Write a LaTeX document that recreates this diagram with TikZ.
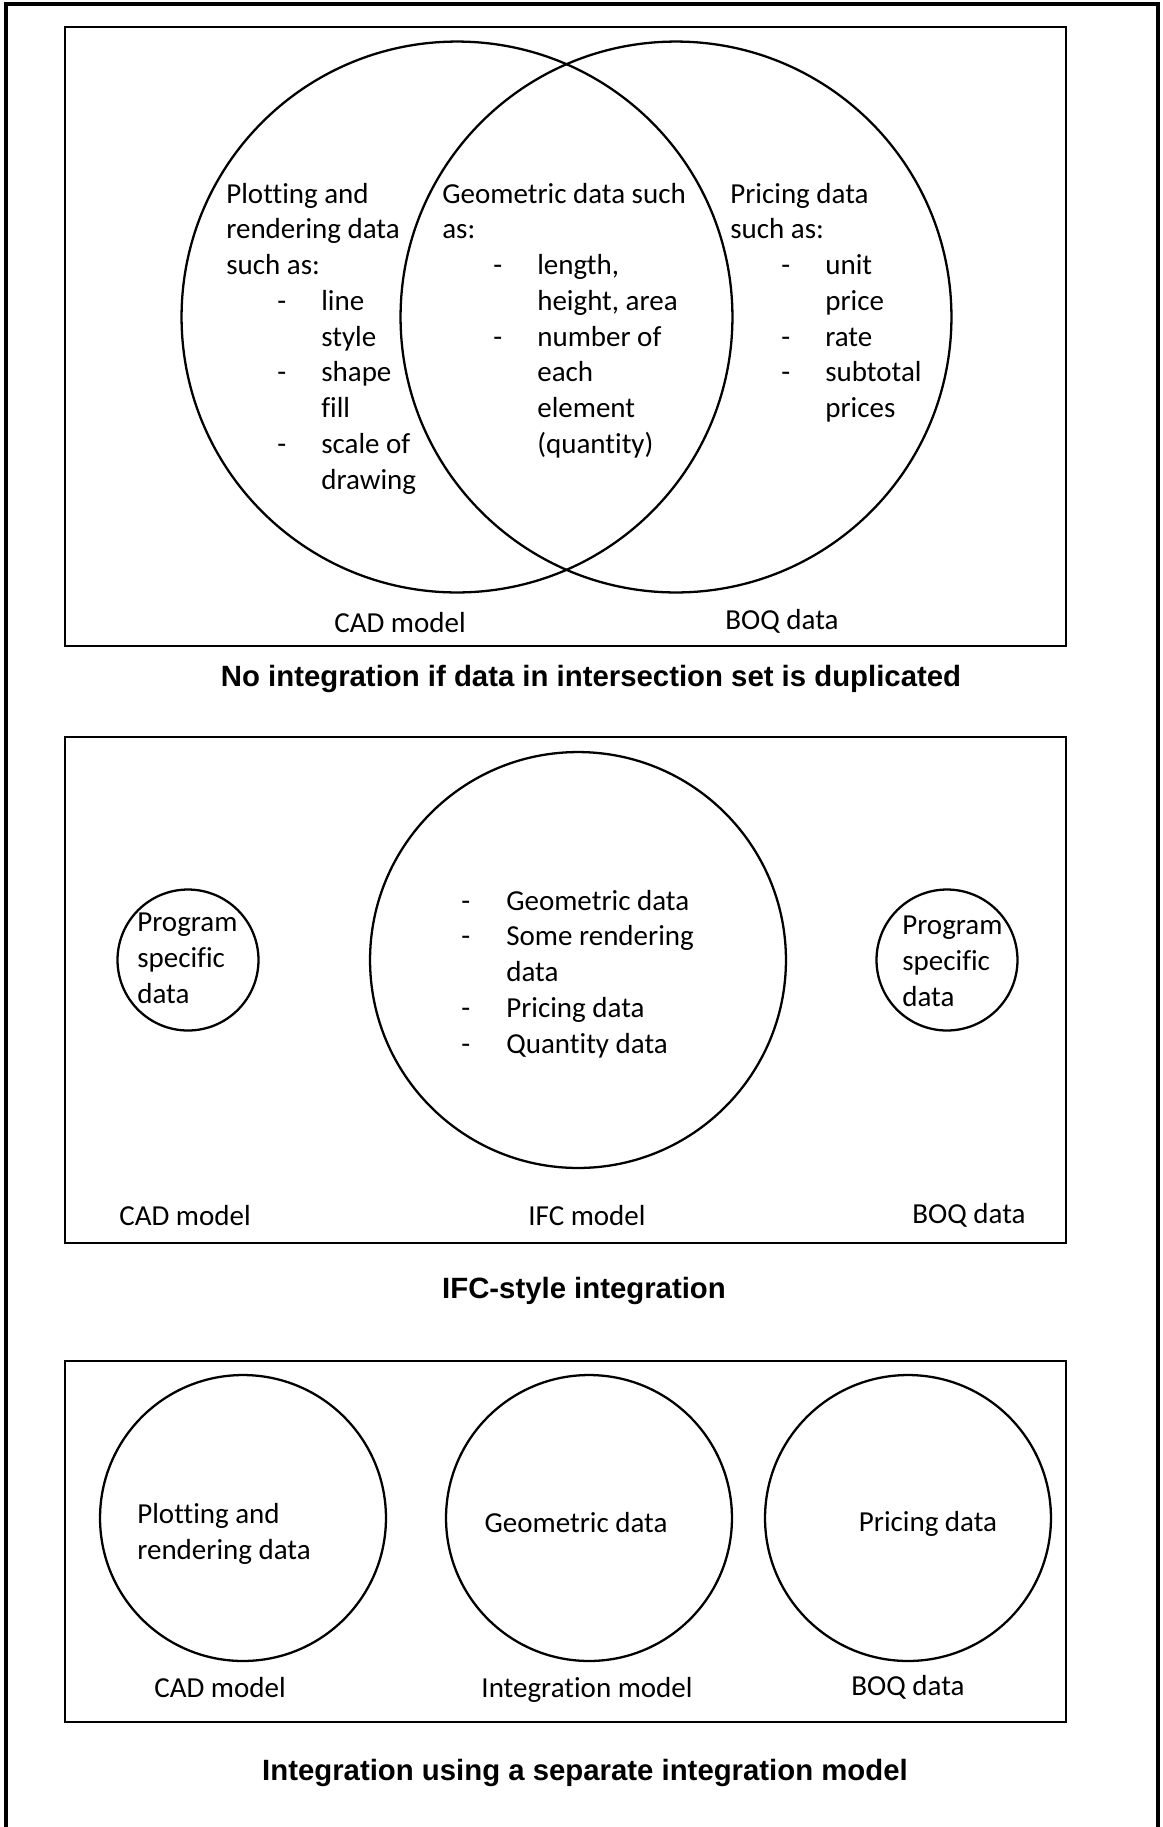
\documentclass[tikz,border=0pt]{standalone}
\usepackage{fontspec}
\setmainfont{Carlito}[Ligatures=NoCommon]
\newfontfamily\capfont{Liberation Sans}
\newcommand{\vennfont}{\fontsize{16.5}{20.35}\selectfont}
\newcommand{\venntext}[1]{\begin{tabular}[t]{@{}p{1.02cm}@{}p{0.88cm}@{}l@{}}#1\end{tabular}}
\tikzset{
	set/.style={draw, circle, line width=1.3pt, inner sep=0pt},
	panel/.style={draw, line width=1.5pt},
	txt/.style={inner sep=0pt, anchor=base west, font=\vennfont, align=left},
	lbl/.style={inner sep=0pt, anchor=base, font=\vennfont},
	caption/.style={inner sep=0pt, anchor=base, font=\capfont\bfseries\fontsize{16.7}{20}\selectfont},
}
\begin{document}
\begin{tikzpicture}[x=0.02cm, y=-0.02cm]
	\useasboundingbox (0,0) rectangle (1163,1827);
	\draw[line width=2pt] (6,1840) -- (6,4) -- (1158,4) -- (1158,1840);

	% no integration
	\draw[panel] (65,27) rectangle (1066,646);
	\node (cad1) [set, minimum size=11.02cm] at (457,317) {};
	\node (boq1) [set, minimum size=11.02cm] at (676,317) {};
	\node (plot1) [txt] at (226,203) {\venntext{\multicolumn{3}{@{}l@{}}{Plotting and}\\ \multicolumn{3}{@{}l@{}}{rendering data}\\ \multicolumn{3}{@{}l@{}}{such as:}\\ & - & line\\ & & style\\ & - & shape\\ & & fill\\ & - & scale of\\ & & drawing}};
	\node (geo1) [txt] at (442,203) {\venntext{\multicolumn{3}{@{}l@{}}{Geometric data such}\\ \multicolumn{3}{@{}l@{}}{as:}\\ & - & length,\\ & & height, area\\ & - & number of\\ & & each\\ & & element\\ & & (quantity)}};
	\node (price1) [txt] at (730,203) {\venntext{\multicolumn{3}{@{}l@{}}{Pricing data}\\ \multicolumn{3}{@{}l@{}}{such as:}\\ & - & unit\\ & & price\\ & - & rate\\ & - & subtotal\\ & & prices}};
	\node (cadlbl1) [lbl] at (400,632) {CAD model};
	\node (boqlbl1) [lbl] at (782,629) {BOQ data};
	\node (cap1) [caption] at (591,686) {No integration if data in intersection set is duplicated};

	% IFC
	\draw[panel] (65,737) rectangle (1066,1243);
	\node (cad2) [set, minimum size=2.82cm] at (188,960) {};
	\node (ifc2) [set, minimum size=8.32cm] at (578,960) {};
	\node (boq2) [set, minimum size=2.82cm] at (947,960) {};
	\node (prog2a) [txt] at (137,1003) {Program\\specific\\data};
	\node (prog2b) [txt] at (902,1006) {Program\\specific\\data};
	\node (ifctxt2) [txt] at (461,910) {\begin{tabular}[t]{@{}p{0.9cm}@{}l@{}}- & Geometric data\\ - & Some rendering\\ & data\\ - & Pricing data\\ - & Quantity data\end{tabular}};
	\node (cadlbl2) [lbl] at (185,1225) {CAD model};
	\node (ifclbl2) [lbl] at (587,1225) {IFC model};
	\node (boqlbl2) [lbl] at (969,1223) {BOQ data};
	\node (cap2) [caption] at (584,1298) {IFC-style integration};

	% separate model
	\draw[panel] (65,1361) rectangle (1066,1722);
	\node (cad3) [set, minimum size=5.72cm] at (243,1518) {};
	\node (int3) [set, minimum size=5.72cm] at (589,1518) {};
	\node (boq3) [set, minimum size=5.72cm] at (908,1518) {};
	\node (plot3) [txt] at (137,1559) {Plotting and\\rendering data};
	\node (geo3) [lbl] at (576,1532) {Geometric data};
	\node (price3) [lbl] at (928,1531) {Pricing data};
	\node (cadlbl3) [lbl] at (220,1697) {CAD model};
	\node (intlbl3) [lbl] at (587,1697) {Integration model};
	\node (boqlbl3) [lbl] at (908,1695) {BOQ data};
	\node (cap3) [caption] at (585,1780) {Integration using a separate integration model};
\end{tikzpicture}
\end{document}
